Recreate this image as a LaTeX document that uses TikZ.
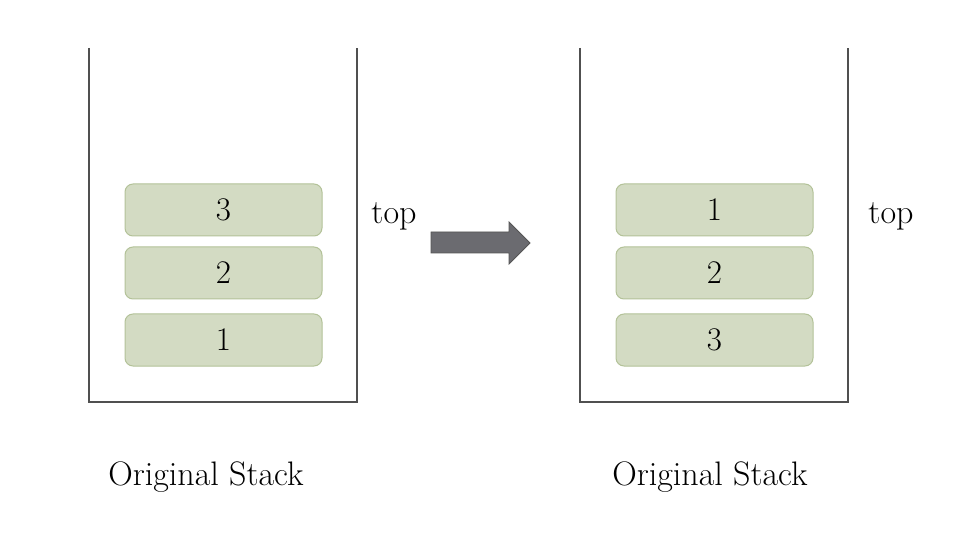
\documentclass[tikz,border=0pt]{standalone}
\usepackage{tikz}
\begin{document}
\begin{tikzpicture}[x=1pt,y=-1pt,
  lbl/.style={font=\fontsize{34}{36}\selectfont, inner sep=0pt, anchor=base},
  item/.style={draw=itemb, fill=itemf, line width=1pt, rounded corners=8pt, minimum width=197pt, minimum height=52pt, inner sep=0pt, font=\fontsize{33}{34}\selectfont},
  wall/.style={draw=wallc, line width=1.3pt}]
\definecolor{itemf}{HTML}{D3DBC3}
\definecolor{itemb}{HTML}{B3C298}
\definecolor{wallc}{HTML}{505050}
\definecolor{arrf}{HTML}{6B6B70}
\definecolor{arrb}{HTML}{555555}
\useasboundingbox (0,0) rectangle (978,540);
% left stack
\coordinate (l1) at (89,48);
\coordinate (l2) at (89,402);
\coordinate (l3) at (357,402);
\coordinate (l4) at (357,48);
\draw[wall] (l1) -- (l2) -- (l3) -- (l4);
\node[item] (a3) at (223.5,210) {3};
\node[item] (a2) at (223.5,273) {2};
\node[item] (a1) at (223.5,340) {1};
\node[lbl] (ltop) at (394,224) {top};
\node[lbl] (lcap) at (206,485) {Original Stack};
% right stack
\coordinate (r1) at (580,48);
\coordinate (r2) at (580,402);
\coordinate (r3) at (848,402);
\coordinate (r4) at (848,48);
\draw[wall] (r1) -- (r2) -- (r3) -- (r4);
\node[item] (b1) at (714.5,210) {1};
\node[item] (b2) at (714.5,273) {2};
\node[item] (b3) at (714.5,340) {3};
\node[lbl] (rtop) at (891,224) {top};
\node[lbl] (rcap) at (710,485) {Original Stack};
% arrow
\draw[fill=arrf, draw=arrb, line width=0.8pt]
  (431,232) -- (509,232) -- (509,222) -- (530,243) -- (509,264) -- (509,253) -- (431,253) -- cycle;
\end{tikzpicture}
\end{document}
